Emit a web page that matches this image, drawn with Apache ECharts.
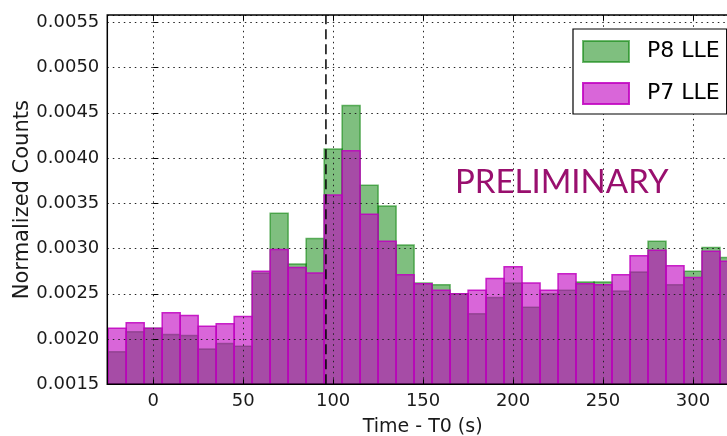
<!DOCTYPE html>
<html>
<head>
<meta charset="utf-8">
<script src="https://cdn.jsdelivr.net/npm/echarts@6/dist/echarts.min.js"></script>
<style>
html,body{margin:0;padding:0;background:#fff;}
#chart{width:727px;height:436px;}
</style>
</head>
<body>
<div id="chart"></div>
<script>
// Bin centres (s) and bin width
const binCenters = [-20, -10, 0, 10, 20, 30, 40, 50, 60, 70, 80, 90, 100, 110, 120, 130, 140, 150, 160, 170, 180, 190, 200, 210, 220, 230, 240, 250, 260, 270, 280, 290, 300, 310, 320];
const binWidth = 10;
// Normalized counts
const p8Values = [0.00186, 0.00208, 0.00212, 0.00205, 0.00204, 0.00189, 0.00195, 0.00192, 0.00273, 0.00339, 0.00283, 0.00311, 0.00410, 0.00458, 0.00370, 0.00347, 0.00304, 0.00262, 0.00260, 0.00250, 0.00228, 0.00246, 0.00262, 0.00235, 0.00250, 0.00254, 0.00263, 0.00263, 0.00253, 0.00274, 0.00308, 0.00260, 0.00275, 0.00301, 0.00290];
const p7Values = [0.00212, 0.00218, 0.00212, 0.00229, 0.00226, 0.00214, 0.00217, 0.00225, 0.00275, 0.00299, 0.00279, 0.00273, 0.00359, 0.00408, 0.00338, 0.00308, 0.00271, 0.00261, 0.00254, 0.00250, 0.00254, 0.00267, 0.00280, 0.00262, 0.00254, 0.00272, 0.00261, 0.00260, 0.00271, 0.00292, 0.00298, 0.00281, 0.00268, 0.00297, 0.00286];
const seriesNames = ['P8 LLE', 'P7 LLE'];
const xTicks = [0, 50, 100, 150, 200, 250, 300];
const xMin = -25.5, xMax = 325;
const yMin = 0.0015, yMax = 0.00558, yStep = 0.0005;
const triggerTime = 96;
const watermark = 'PRELIMINARY';

const chart = echarts.init(document.getElementById('chart'), null, {renderer: 'canvas'});

function makeRender(fill, stroke) {
  return function (params, api) {
    const x = api.value(0), y = api.value(1);
    const tl = api.coord([x - binWidth / 2, y]);
    const br = api.coord([x + binWidth / 2, yMin]);
    return {
      type: 'rect',
      shape: {x: tl[0], y: tl[1], width: br[0] - tl[0], height: br[1] - tl[1]},
      style: {fill: fill, stroke: stroke, lineWidth: 1.5}
    };
  };
}

const green = 'rgba(0,128,0,0.5)', greenEdge = 'rgba(0,128,0,0.55)';
const mag = 'rgba(191,0,191,0.6)', magEdge = 'rgba(191,0,191,0.85)';

const font = 'DejaVu Sans';
const dotted = {color: '#222', width: 1, type: [1.5, 4]};

const option = {
  animation: false,
  backgroundColor: '#fff',
  grid: {left: 107.3, top: 15, right: -11, bottom: 51.7, containLabel: false, outerBoundsMode: 'none',
    show: true, borderColor: '#000', borderWidth: 1.5, backgroundColor: 'transparent', z: 11},
  legend: {
    left: 573, top: 29, orient: 'vertical', icon: 'rect',
    itemWidth: 46, itemHeight: 21, itemGap: 19,
    padding: [11, 7, 9, 9],
    borderColor: '#000', borderWidth: 1.2, backgroundColor: '#fff',
    textStyle: {fontFamily: font, fontSize: 22, color: '#000', padding: [0, 0, 0, 13]},
    z: 20,
    data: seriesNames
  },
  xAxis: [{
    type: 'value', min: xMin, max: xMax, z: 10,
    axisLine: {show: false},
    axisTick: {show: true, inside: true, length: 5, lineStyle: {color: '#000', width: 1}, customValues: xTicks},
    axisLabel: {fontFamily: font, fontSize: 18, color: '#1a1a1a', margin: 8, customValues: xTicks},
    splitLine: {show: false},
    name: 'Time - T0 (s)', nameLocation: 'middle', nameGap: 33, nameMoveOverlap: false,
    nameTextStyle: {fontFamily: font, fontSize: 19, color: '#1a1a1a'}
  }, {
    type: 'value', min: xMin, max: xMax, position: 'top', z: 10,
    axisLine: {show: false},
    axisTick: {show: true, inside: true, length: 5, lineStyle: {color: '#000', width: 1}, customValues: xTicks},
    axisLabel: {show: false},
    splitLine: {show: false}
  }],
  yAxis: {
    type: 'value', min: yMin, max: yMax, interval: yStep, z: 10,
    axisLine: {show: false},
    axisTick: {show: true, inside: true, length: 5, lineStyle: {color: '#000', width: 1}},
    axisLabel: {
      fontFamily: font, fontSize: 18, color: '#1a1a1a', margin: 8, showMaxLabel: false,
      formatter: function (v) {
        const k = v / yStep;
        return Math.abs(k - Math.round(k)) < 1e-6 ? v.toFixed(4) : '';
      }
    },
    splitLine: {show: true, lineStyle: dotted},
    name: 'Normalized Counts', nameLocation: 'middle', nameGap: 74, nameMoveOverlap: false,
    nameTextStyle: {fontFamily: font, fontSize: 21, color: '#1a1a1a'}
  },
  series: [
    {
      name: seriesNames[0], type: 'custom', clip: true, z: 2,
      itemStyle: {color: green, borderColor: greenEdge, borderWidth: 1.5},
      renderItem: makeRender(green, greenEdge),
      encode: {x: 0, y: 1},
      data: binCenters.map((c, i) => [c, p8Values[i]])
    },
    {
      name: seriesNames[1], type: 'custom', clip: true, z: 3,
      itemStyle: {color: mag, borderColor: magEdge, borderWidth: 1.5},
      renderItem: makeRender(mag, magEdge),
      encode: {x: 0, y: 1},
      data: binCenters.map((c, i) => [c, p7Values[i]])
    },
    {
      name: 'xgrid', type: 'line', z: 12, silent: true,
      data: [],
      markLine: {
        silent: true, symbol: 'none', label: {show: false},
        lineStyle: dotted,
        data: xTicks.map(t => ({xAxis: t}))
      }
    },
    {
      name: 'T', type: 'line', z: 12, silent: true, symbol: 'none',
      lineStyle: {color: '#000', width: 1.5, type: [10, 5]},
      data: [[triggerTime, yMin], [triggerTime, yMax]]
    }
  ],
  graphic: [{
    type: 'text', left: 455, top: 166, z: 15,
    style: {text: watermark, fontFamily: 'Lato', fontSize: 33, fill: '#990f6e'}
  }]
};
chart.setOption(option);
</script>
</body>
</html>
